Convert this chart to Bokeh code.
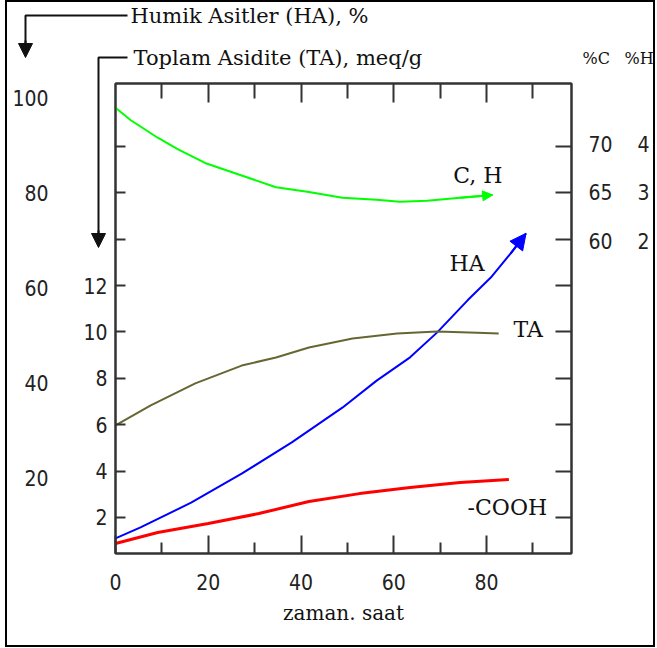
from bokeh.plotting import figure
from bokeh.models import Range1d, LinearAxis, FixedTicker, Label, Arrow, NormalHead
from bokeh.embed import file_html
from bokeh.resources import INLINE

# ---------------- data ----------------
time_c = [0, 3.3, 9.1, 13.5, 19.3, 27.2, 34.6, 41.7, 48.9, 56.3, 61.3, 67.2, 74.3, 81.3]
carbon = [73.7, 72.4, 70.6, 69.4, 68.0, 66.7, 65.5, 65.0, 64.4, 64.2, 64.0, 64.1, 64.4, 64.7]

time_ha = [0, 5.4, 16.3, 27.2, 38.0, 48.9, 56.3, 63.5, 69.3, 75.9, 80.9, 85.2, 88.5]
humic = [7.2, 9.5, 14.7, 20.8, 27.4, 34.7, 40.4, 45.3, 50.5, 57.3, 62.1, 67.2, 71.4]

time_ta = [0, 7.6, 17.2, 27.2, 34.6, 41.7, 51.1, 60.7, 69.3, 78.0, 82.6]
total_acid = [5.97, 6.83, 7.78, 8.55, 8.90, 9.33, 9.72, 9.93, 10.02, 9.97, 9.93]

time_cooh = [0, 9.1, 20.0, 30.9, 41.7, 52.6, 63.5, 74.3, 84.8]
cooh = [0.88, 1.35, 1.74, 2.17, 2.69, 3.03, 3.29, 3.51, 3.64]

x_major = [0, 20, 40, 60, 80]
x_minor = [10, 30, 50, 70, 90]
ta_ticks = [2, 4, 6, 8, 10, 12, 14, 16, 18]
ta_hidden = [14, 16, 18]
ha_ticks = [20, 40, 60, 80, 100]
c_ticks = [60, 65, 70]
h_ticks = [2, 3, 4]

title_ha = "Humik Asitler (HA), %"
title_ta = "Toplam Asidite (TA), meq/g"

# ---------------- styling ----------------
NUM_FONT = "'DejaVu Sans Condensed', 'DejaVu Sans', sans-serif"
NUM_SIZE = "21px"
SERIF = "DejaVu Serif"
AX = "#333333"
INK = "#111111"

W, H = 650, 647

p = figure(width=W, height=H,
           x_range=Range1d(0, 98.3), y_range=Range1d(0.448, 20.71),
           x_axis_type=None, y_axis_type=None,
           output_backend="svg", toolbar_location=None,
           min_border_left=108, min_border_right=86,
           min_border_top=81, min_border_bottom=96)
p.styles = {"border": "2px solid black", "margin-left": "5px"}
p.outline_line_color = AX
p.outline_line_width = 2
p.background_fill_color = "white"
p.border_fill_color = "white"

p.extra_y_ranges = {
    "ha": Range1d(4.0, 102.95),
    "c": Range1d(27.73, 76.19),
    "h": Range1d(-4.45, 5.237),
}


def style_labels(ax):
    ax.major_label_text_font = NUM_FONT
    ax.major_label_text_font_size = NUM_SIZE
    ax.major_label_text_color = "#222222"


def label_only(ax, standoff):
    ax.major_tick_in = 0
    ax.major_tick_out = 0
    ax.axis_line_color = None
    ax.major_tick_line_color = None
    ax.major_label_standoff = standoff
    style_labels(ax)


# bottom axis
xb = LinearAxis(ticker=FixedTicker(ticks=x_major, minor_ticks=x_minor))
xb.major_tick_in = 18
xb.major_tick_out = 0
xb.minor_tick_in = 11
xb.minor_tick_out = 0
xb.major_tick_line_width = 2
xb.minor_tick_line_width = 2
xb.major_tick_line_color = AX
xb.minor_tick_line_color = AX
xb.axis_line_color = AX
xb.axis_line_width = 2
xb.major_label_standoff = 20
style_labels(xb)
xb.axis_label = "zaman. saat"
xb.axis_label_text_font = SERIF
xb.axis_label_text_font_size = "20px"
xb.axis_label_text_font_style = "normal"
xb.axis_label_text_color = INK
xb.axis_label_standoff = 8
p.add_layout(xb, "below")

# top axis (ticks only)
xt = LinearAxis(ticker=FixedTicker(ticks=x_major[1:], minor_ticks=x_minor))
xt.major_tick_in = 19
xt.major_tick_out = 0
xt.minor_tick_in = 15
xt.minor_tick_out = 0
xt.major_tick_line_width = 2
xt.minor_tick_line_width = 2
xt.major_tick_line_color = AX
xt.minor_tick_line_color = AX
xt.axis_line_color = AX
xt.axis_line_width = 2
xt.major_label_text_font_size = "0px"
xt.major_label_standoff = 0
p.add_layout(xt, "above")

# left: total acidity (meq/g), next to the frame
yl = LinearAxis(ticker=FixedTicker(ticks=ta_ticks))
yl.major_tick_in = 10
yl.major_tick_out = 0
yl.major_tick_line_width = 2
yl.major_tick_line_color = AX
yl.axis_line_color = AX
yl.axis_line_width = 2
yl.major_label_standoff = 8
yl.major_label_overrides = {t: "" for t in ta_hidden}
style_labels(yl)
p.add_layout(yl, "left")

# left outer: humic acids (%)
yha = LinearAxis(y_range_name="ha", ticker=FixedTicker(ticks=ha_ticks))
label_only(yha, 32)
p.add_layout(yha, "left")

# right: tick marks on the frame
yr = LinearAxis(ticker=FixedTicker(ticks=ta_ticks))
yr.major_tick_in = 16
yr.major_tick_out = 0
yr.major_tick_line_width = 2
yr.major_tick_line_color = AX
yr.axis_line_color = AX
yr.axis_line_width = 2
yr.major_label_text_font_size = "0px"
yr.major_label_standoff = 0
p.add_layout(yr, "right")

# right: %C and %H
yc = LinearAxis(y_range_name="c", ticker=FixedTicker(ticks=c_ticks))
label_only(yc, 17)
p.add_layout(yc, "right")

yh = LinearAxis(y_range_name="h", ticker=FixedTicker(ticks=h_ticks))
label_only(yh, 22)
p.add_layout(yh, "right")

p.xgrid.visible = False
p.ygrid.visible = False

# ---------------- curves ----------------
p.line(time_c, carbon, y_range_name="c", line_color="#00ff00", line_width=2)
p.line(time_ha, humic, y_range_name="ha", line_color="#0000ff", line_width=2)
p.line(time_ta, total_acid, line_color="#666633", line_width=2)
p.line(time_cooh, cooh, line_color="#ff0000", line_width=3)

p.add_layout(Arrow(x_start=time_ha[-2], y_start=humic[-2], x_end=time_ha[-1], y_end=humic[-1],
                   y_range_name="ha", line_color="#0000ff", line_width=2,
                   end=NormalHead(size=16, fill_color="#0000ff", line_color="#0000ff")))
p.add_layout(Arrow(x_start=time_c[-2], y_start=carbon[-2], x_end=time_c[-1], y_end=carbon[-1],
                   y_range_name="c", line_color="#00ff00", line_width=2,
                   end=NormalHead(size=10, fill_color="#00ff00", line_color="#00ff00")))


# ---------------- curve names (inside the frame) ----------------
def lab(x, y, text, size="22px"):
    p.add_layout(Label(x=x, y=y, text=text, text_font=SERIF, text_font_size=size,
                       text_color=INK, text_baseline="middle", text_align="left"))


lab(72.8, 16.74, "C, H")
lab(72.0, 12.95, "HA")
lab(85.8, 10.10, "TA")
lab(75.9, 2.43, "-COOH")

# ---------------- overlay (page pixels) for the texts and guide arrows outside the frame ----------------
OW, OH = 657, 648
ov = figure(width=OW, height=OH, x_range=Range1d(0, OW), y_range=Range1d(OH, 0),
            x_axis_type=None, y_axis_type=None, output_backend="svg",
            toolbar_location=None, min_border=0)
ov.outline_line_color = None
ov.background_fill_color = None
ov.border_fill_color = None
ov.xgrid.visible = False
ov.ygrid.visible = False
ov.styles = {"position": "absolute", "left": "0px", "top": "0px", "pointer-events": "none"}


def olab(x, y, text, size="21px"):
    ov.add_layout(Label(x=x, y=y, text=text, text_font=SERIF, text_font_size=size,
                        text_color=INK, text_baseline="middle", text_align="left"))


olab(130, 15, title_ha)
olab(133, 57, title_ta)
olab(582, 58, "%C", size="16px")
olab(624, 58, "%H", size="16px")

ov.line([127, 25, 25], [15, 15, 45], line_color=INK, line_width=2)
ov.line([127, 98, 98], [57, 57, 235], line_color=INK, line_width=2)
ov.add_layout(Arrow(x_start=25, y_start=40, x_end=25, y_end=57, line_color=INK, line_width=2,
                    end=NormalHead(size=14, fill_color=INK, line_color=INK)))
ov.add_layout(Arrow(x_start=98, y_start=230, x_end=98, y_end=247, line_color=INK, line_width=2,
                    end=NormalHead(size=14, fill_color=INK, line_color=INK)))

open("out.html", "w").write(file_html([p, ov], INLINE))
